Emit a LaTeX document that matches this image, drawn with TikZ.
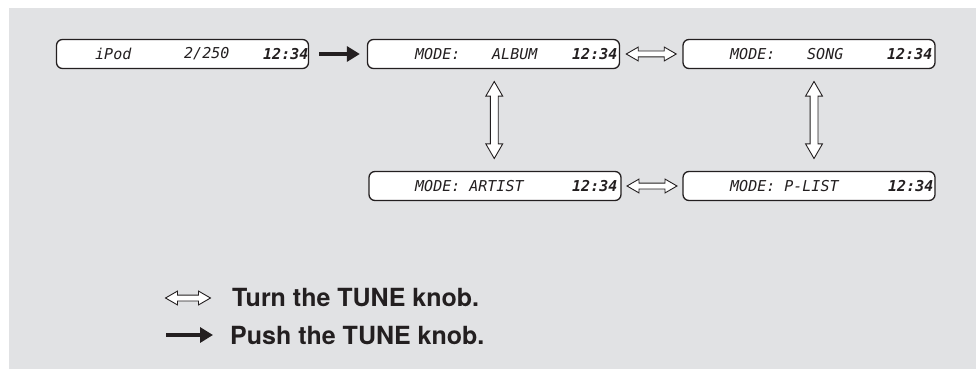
\documentclass[tikz,border=0pt]{standalone}
\usepackage{fontspec}
\setmainfont{TeX Gyre Heros}
\newfontfamily\lcdfont{DejaVu Sans Mono}
\usetikzlibrary{shapes.arrows,arrows.meta,calc}

\definecolor{panel}{HTML}{E1E2E4}
\definecolor{ink}{HTML}{231F20}

\tikzset{
  display/.style={draw=ink, line width=1.3pt, fill=white, rounded corners=6pt,
                  minimum width=252pt, minimum height=29pt, inner sep=0pt},
  lcd/.style={font=\lcdfont\itshape\fontsize{15}{15}\selectfont, text=ink,
              anchor=west, inner sep=0pt},
  lcdtime/.style={lcd, font=\lcdfont\bfseries\itshape\fontsize{15}{15}\selectfont},
  turn/.style={double arrow, draw=ink, fill=white, line width=0.9pt,
               inner sep=2.5pt, text height=0pt, text depth=0pt, text width=0pt,
               minimum height=50pt,
               double arrow head extend=4pt, double arrow tip angle=60},
  turnup/.style={turn, rotate=90, inner sep=3.5pt, minimum height=77pt,
                 double arrow head extend=4.5pt},
  push/.style={draw=ink, line width=4.5pt, -{Triangle[length=13pt, width=15pt]}},
  legend/.style={font=\bfseries\fontsize{25}{25}\selectfont, text=ink,
                 anchor=west, inner sep=0pt}
}

\begin{document}
\begin{tikzpicture}[x=1pt, y=-1pt]
  \useasboundingbox (0, 0) rectangle (976, 369);
  \fill [panel] (9, 8) rectangle (976, 369);

  % displays
  \node [display] (ipod)   at (182.5, 54) {};
  \node [display] (album)  at (493.5, 54) {};
  \node [display] (song)   at (809, 54) {};
  \node [display] (artist) at (495, 186) {};
  \node [display] (plist)  at (809, 186) {};

  \node [lcd]     (ipod-a)   at (95, 54)  {iPod};
  \node [lcd]     (ipod-b)   at (184, 54) {2/250};
  \node [lcdtime] (ipod-c)   at (263, 54) {12:34};

  \node [lcd]     (album-a)  at (415, 54) {MODE:};
  \node [lcd]     (album-b)  at (492, 54) {ALBUM};
  \node [lcdtime] (album-c)  at (572, 54) {12:34};

  \node [lcd]     (song-a)   at (730, 54) {MODE:};
  \node [lcd]     (song-b)   at (807, 54) {SONG};
  \node [lcdtime] (song-c)   at (887, 54) {12:34};

  \node [lcd]     (artist-a) at (415, 186) {MODE: ARTIST};
  \node [lcdtime] (artist-c) at (572, 186) {12:34};

  \node [lcd]     (plist-a)  at (730, 186) {MODE: P-LIST};
  \node [lcdtime] (plist-c)  at (888, 186) {12:34};

  % connectors
  \draw [push, shorten <=10pt, shorten >=7pt] (ipod) -- (album);

  \node [turn] (t-1) at ($(album.east)!0.5!(song.west)$) {};
  \node [turn] (t-2) at ($(artist.east)!0.5!(plist.west)$) {};
  \node [turnup] (t-3) at ($(album.south)!0.5!(artist.north)$) {};
  \node [turnup] (t-4) at ($(song.south)!0.5!(plist.north) + (5, 0)$) {};

  % legend
  \node [turn, minimum height=45pt] (key-turn) at (188, 298) {};
  \node [legend] (turn-text) at (232, 298) {Turn the TUNE knob.};

  \coordinate (push-a) at (166, 335);
  \coordinate (push-b) at (213, 335);
  \draw [push] (push-a) -- (push-b);
  \node [legend] (push-text) at (230, 336) {Push the TUNE knob.};
\end{tikzpicture}
\end{document}
